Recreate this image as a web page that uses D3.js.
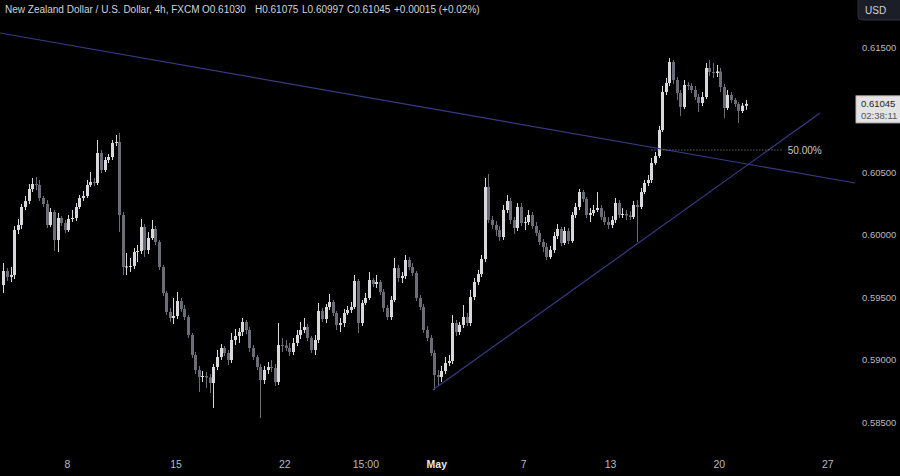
<!DOCTYPE html>
<html>
<head>
<meta charset="utf-8">
<script src="https://cdn.jsdelivr.net/npm/d3@7/dist/d3.min.js"></script>
<style>
    body { margin: 0; background: #000; }
    svg { display: block; font-family: "Liberation Sans", Arial, sans-serif; }
</style>
</head>
<body>
<svg id="chart" width="900" height="476"></svg>
<script>
    // NZDUSD 4h candles (open = previous close)
    var firstOpen = 0.59596;
    var closes = [0.59708,0.59660,0.59676,0.60036,0.60076,0.60220,0.60268,0.60364,0.60404,0.60396,
        0.60292,0.60244,0.60076,0.60180,0.59956,0.60132,0.60092,0.60036,0.60124,0.60132,
        0.60220,0.60292,0.60308,0.60396,0.60420,0.60412,0.60652,0.60516,0.60596,0.60620,
        0.60732,0.60740,0.60156,0.59740,0.59744,0.59748,0.59860,0.59868,0.60060,0.59876,
        0.59972,0.60044,0.59940,0.59740,0.59532,0.59380,0.59332,0.59348,0.59468,0.59404,
        0.59340,0.59196,0.59036,0.58916,0.58860,0.58868,0.58856,0.58812,0.58940,0.59020,
        0.59092,0.59052,0.58996,0.59156,0.59188,0.59220,0.59300,0.59236,0.59092,0.59020,
        0.58940,0.58836,0.58916,0.58940,0.58932,0.58820,0.59116,0.59112,0.59092,0.59060,
        0.59132,0.59196,0.59236,0.59260,0.59172,0.59076,0.59156,0.59388,0.59324,0.59420,
        0.59460,0.59372,0.59276,0.59292,0.59372,0.59396,0.59420,0.59628,0.59292,0.59452,
        0.59492,0.59636,0.59604,0.59620,0.59540,0.59412,0.59340,0.59476,0.59732,0.59652,
        0.59668,0.59796,0.59740,0.59692,0.59492,0.59420,0.59236,0.59172,0.59052,0.58876,
        0.58860,0.58908,0.58972,0.58988,0.59292,0.59220,0.59276,0.59340,0.59292,0.59500,
        0.59620,0.59684,0.59804,0.60380,0.60116,0.60076,0.60036,0.59980,0.60196,0.60268,
        0.60116,0.60052,0.60220,0.60092,0.60100,0.60156,0.60068,0.60012,0.59940,0.59900,
        0.59820,0.59876,0.59988,0.60044,0.59932,0.60028,0.59948,0.60156,0.60220,0.60340,
        0.60284,0.60156,0.60172,0.60196,0.60212,0.60140,0.60100,0.60076,0.60116,0.60252,
        0.60156,0.60164,0.60152,0.60140,0.60236,0.60220,0.60340,0.60412,0.60436,0.60572,
        0.60628,0.60836,0.61140,0.61212,0.61380,0.61236,0.61132,0.61020,0.61196,0.61188,
        0.61156,0.61100,0.61052,0.61100,0.61332,0.61300,0.61292,0.61304,0.61180,0.61012,
        0.61116,0.61076,0.61044,0.60988,0.61030,0.61045];
    var highs = [0.59772,0.59732,0.59740,0.60068,0.60124,0.60244,0.60308,0.60404,0.60452,0.60460,
        0.60436,0.60308,0.60276,0.60212,0.60196,0.60172,0.60148,0.60116,0.60156,0.60196,
        0.60252,0.60316,0.60348,0.60436,0.60500,0.60452,0.60756,0.60676,0.60620,0.60644,
        0.60756,0.60796,0.60812,0.60180,0.59852,0.59812,0.59892,0.59916,0.60124,0.60084,
        0.60020,0.60116,0.60068,0.59956,0.59756,0.59548,0.59412,0.59492,0.59540,0.59492,
        0.59436,0.59356,0.59212,0.59060,0.58948,0.58908,0.58900,0.58884,0.58964,0.59076,
        0.59124,0.59108,0.59076,0.59212,0.59244,0.59252,0.59332,0.59316,0.59260,0.59116,
        0.59036,0.58964,0.58948,0.58980,0.58996,0.58964,0.59292,0.59172,0.59156,0.59132,
        0.59172,0.59236,0.59300,0.59332,0.59284,0.59188,0.59196,0.59452,0.59412,0.59444,
        0.59524,0.59476,0.59388,0.59332,0.59404,0.59428,0.59460,0.59676,0.59644,0.59476,
        0.59532,0.59700,0.59652,0.59676,0.59636,0.59564,0.59436,0.59508,0.59812,0.59756,
        0.59700,0.59836,0.59820,0.59772,0.59708,0.59516,0.59444,0.59268,0.59196,0.59076,
        0.58916,0.58948,0.59020,0.59036,0.59356,0.59316,0.59300,0.59436,0.59372,0.59556,
        0.59652,0.59716,0.59836,0.60452,0.60484,0.60148,0.60108,0.60068,0.60236,0.60316,
        0.60292,0.60140,0.60252,0.60252,0.60140,0.60196,0.60180,0.60100,0.60036,0.59964,
        0.59932,0.59908,0.60020,0.60084,0.60060,0.60060,0.60052,0.60180,0.60252,0.60364,
        0.60356,0.60300,0.60212,0.60236,0.60340,0.60236,0.60188,0.60140,0.60148,0.60292,
        0.60276,0.60212,0.60196,0.60188,0.60268,0.60276,0.60372,0.60436,0.60476,0.60612,
        0.60660,0.60868,0.61188,0.61252,0.61412,0.61396,0.61260,0.61156,0.61236,0.61220,
        0.61212,0.61188,0.61124,0.61140,0.61372,0.61396,0.61372,0.61356,0.61332,0.61204,
        0.61156,0.61140,0.61092,0.61060,0.61052,0.61075];
    var lows = [0.59532,0.59628,0.59620,0.59644,0.60004,0.60044,0.60196,0.60244,0.60340,0.60356,
        0.60268,0.60220,0.60052,0.60060,0.59868,0.59860,0.60068,0.60012,0.60020,0.60100,
        0.60108,0.60204,0.60268,0.60292,0.60380,0.60388,0.60396,0.60492,0.60500,0.60572,
        0.60596,0.60708,0.60020,0.59676,0.59676,0.59700,0.59724,0.59780,0.59844,0.59820,
        0.59844,0.59956,0.59916,0.59716,0.59508,0.59356,0.59300,0.59284,0.59324,0.59380,
        0.59316,0.59172,0.59012,0.58884,0.58740,0.58820,0.58772,0.58732,0.58612,0.58916,
        0.58996,0.59028,0.58956,0.58972,0.59116,0.59132,0.59188,0.59204,0.59060,0.58996,
        0.58916,0.58532,0.58804,0.58884,0.58900,0.58788,0.58796,0.59060,0.59068,0.59028,
        0.59036,0.59108,0.59164,0.59212,0.59148,0.59052,0.59036,0.59132,0.59300,0.59292,
        0.59396,0.59348,0.59236,0.59220,0.59260,0.59356,0.59372,0.59404,0.59212,0.59268,
        0.59436,0.59476,0.59580,0.59572,0.59516,0.59380,0.59316,0.59316,0.59460,0.59620,
        0.59612,0.59644,0.59716,0.59668,0.59468,0.59396,0.59212,0.59148,0.59028,0.58756,
        0.58788,0.58820,0.58884,0.58948,0.58964,0.59188,0.59196,0.59252,0.59268,0.59268,
        0.59476,0.59596,0.59660,0.59780,0.60092,0.60044,0.59988,0.59948,0.59956,0.60172,
        0.60084,0.60004,0.60028,0.60068,0.60036,0.60076,0.60044,0.59988,0.59916,0.59860,
        0.59796,0.59804,0.59852,0.59964,0.59908,0.59916,0.59924,0.59932,0.60132,0.60196,
        0.60260,0.60132,0.60100,0.60148,0.60180,0.60116,0.60076,0.60044,0.60052,0.60092,
        0.60132,0.60132,0.60116,0.60116,0.60124,0.59940,0.60204,0.60324,0.60388,0.60412,
        0.60556,0.60612,0.60820,0.61116,0.61188,0.61204,0.61076,0.60948,0.61004,0.61156,
        0.61132,0.61076,0.60980,0.61028,0.61084,0.61268,0.61252,0.61260,0.61140,0.60932,
        0.60996,0.61052,0.61020,0.60892,0.60972,0.60997];

    // time axis: candle index where each label sits
    var tickLabels = ["8", "15", "22", "15:00", "May", "7", "13", "20", "27"];
    var tickIndex = [17.6, 47.6, 77.6, 100, 119.6, 143.6, 167.6, 197.6, 227.6];
    // 0.61000 is hidden under the last price tag, so it is left out
    var priceTicks = [0.585, 0.590, 0.595, 0.600, 0.605, 0.615];

    // drawings: [candle index, price]
    var resistanceLine = [[-0.9, 0.61612], [235.3, 0.60412]];
    var supportLine = [[118.6, 0.58756], [225.6, 0.60972]];
    var fibRange = [179, 215];
    var fibPrice = 0.60676;

    var header = ["New Zealand Dollar / U.S. Dollar, 4h, FXCM", "O0.61030", "H0.61075", "L0.60997", "C0.61045", "+0.00015 (+0.02%)"];
    var lastPrice = 0.61045, countdown = "02:38:11";

    var upColor = "#d9d9dc", downColor = "#6a6d77", lineColor = "#363b84";

    var svg = d3.select("#chart");
    svg.append("rect").attr("width", 900).attr("height", 476).attr("fill", "#000");

    var x = d3.scaleLinear().domain([-0.9, 233.3]).range([0, 848]);
    var y = d3.scaleLinear().domain([0.585, 0.615]).range([422, 47]);

    var candles = closes.map(function(c, i){
        return {i: i, o: i === 0 ? firstOpen : closes[i-1], h: highs[i], l: lows[i], c: c};
    });

    var plot = svg.append("g").classed("candles", true);

    // wicks
    plot.selectAll(".wick")
        .data(candles)
        .enter()
        .append("line")
        .classed("wick", true)
        .attr("x1", function(d){ return Math.round(x(d.i)) + 0.5; })
        .attr("x2", function(d){ return Math.round(x(d.i)) + 0.5; })
        .attr("y1", function(d){ return y(d.h); })
        .attr("y2", function(d){ return y(d.l); })
        .attr("stroke", function(d){ return d.c >= d.o ? upColor : downColor; })
        .attr("stroke-width", 1);

    // bodies
    plot.selectAll(".body")
        .data(candles)
        .enter()
        .append("rect")
        .classed("body", true)
        .attr("x", function(d){ return Math.round(x(d.i)) - 1; })
        .attr("width", 3)
        .attr("y", function(d){ return y(Math.max(d.o, d.c)); })
        .attr("height", function(d){ return Math.max(1, Math.abs(y(d.o) - y(d.c))); })
        .attr("fill", function(d){ return d.c >= d.o ? upColor : downColor; });

    // trend lines
    var line = d3.line()
        .x(function(d){ return x(d[0]); })
        .y(function(d){ return y(d[1]); });

    [resistanceLine, supportLine].forEach(function(pts){
        svg.append("path")
            .attr("d", line(pts))
            .attr("fill", "none")
            .attr("stroke", lineColor)
            .attr("stroke-width", 1.2);
    });

    // 50% level
    svg.append("line")
        .attr("x1", x(fibRange[0])).attr("x2", x(fibRange[1]))
        .attr("y1", y(fibPrice)).attr("y2", y(fibPrice))
        .attr("stroke", "#8c8c8c")
        .attr("stroke-width", 1)
        .attr("stroke-dasharray", "1,2");

    svg.append("text")
        .attr("x", x(fibRange[1]) + 6)
        .attr("y", y(fibPrice))
        .attr("dy", "0.35em")
        .attr("fill", "#c8c8c8")
        .style("font-size", "10px")
        .text("50.00%");

    // price axis
    var yAxis = d3.axisRight(y)
        .tickValues(priceTicks)
        .tickFormat(d3.format(".5f"))
        .tickSize(0)
        .tickPadding(4);

    var ya = svg.append("g")
        .attr("transform", "translate(858,0)")
        .call(yAxis);
    ya.select(".domain").remove();
    ya.selectAll("text").attr("fill", "#b8bac2").style("font-size", "9.5px");

    // time axis
    var xAxis = d3.axisBottom(x)
        .tickValues(tickIndex)
        .tickFormat(function(d, i){ return tickLabels[i]; })
        .tickSize(0)
        .tickPadding(0);

    var xa = svg.append("g")
        .attr("transform", "translate(0,461)")
        .call(xAxis);
    xa.select(".domain").remove();
    xa.selectAll("text")
        .attr("fill", function(d, i){ return tickLabels[i] === "May" ? "#e6e6e6" : "#b8bac2"; })
        .style("font-weight", function(d, i){ return tickLabels[i] === "May" ? "bold" : "normal"; })
        .style("font-size", "10.5px");

    // currency box
    svg.append("rect")
        .attr("x", 858).attr("y", -5).attr("width", 46).attr("height", 25).attr("rx", 4)
        .attr("fill", "#1b1e26").attr("stroke", "#2e313a");
    svg.append("text")
        .attr("x", 865).attr("y", 10).attr("dy", "0.35em")
        .attr("fill", "#d1d4dc").style("font-size", "10px")
        .text("USD");

    // last price label
    var ly = y(lastPrice);
    svg.append("rect")
        .attr("x", 856).attr("y", ly - 8).attr("width", 46).attr("height", 27)
        .attr("fill", "#e3e3e6").attr("stroke", "#bdbdc2");
    svg.append("text")
        .attr("x", 861).attr("y", ly).attr("dy", "0.35em")
        .attr("fill", "#222").style("font-size", "9.5px")
        .text(d3.format(".5f")(lastPrice));
    svg.append("text")
        .attr("x", 861).attr("y", ly + 12).attr("dy", "0.35em")
        .attr("fill", "#555").style("font-size", "9.5px")
        .text(countdown);

    // header
    var headerX = [5, 202, 255, 302, 347, 394];
    svg.selectAll(".hdr")
        .data(header)
        .enter()
        .append("text")
        .classed("hdr", true)
        .attr("x", function(d, i){ return headerX[i]; })
        .attr("y", 9)
        .attr("dy", "0.35em")
        .attr("fill", "#d1d4dc")
        .style("font-size", "10px")
        .text(function(d){ return d; });
</script>
</body>
</html>
